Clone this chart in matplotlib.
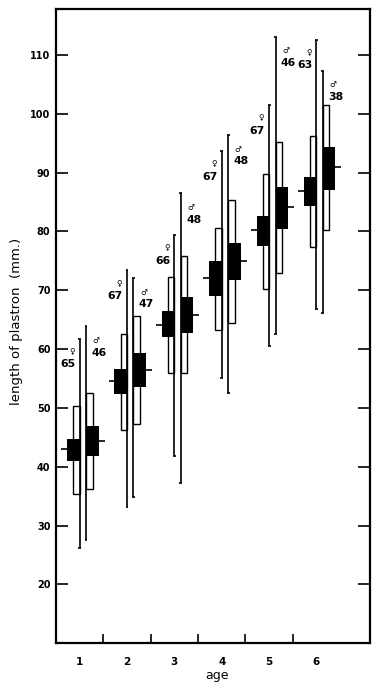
import numpy as np
import matplotlib
matplotlib.use('Agg')
import matplotlib.pyplot as plt

# data (length of plastron in mm, per age class)
ages = np.array([1, 2, 3, 4, 5, 6])
age_labels = ['1', '2', '3', '4', '5', '6']
n_female = [65, 67, 66, 67, 67, 63]
n_male = [46, 47, 48, 48, 46, 38]

# females
female_mean = np.array([43.0, 54.5, 64.1, 72.0, 80.2, 86.9])
female_min = np.array([26.2, 33.2, 41.9, 55.1, 60.5, 66.8])
female_max = np.array([61.8, 73.4, 79.4, 93.7, 101.5, 112.6])
female_sd_lo = np.array([35.4, 46.2, 55.9, 63.2, 70.2, 77.4])
female_sd_hi = np.array([50.3, 62.5, 72.3, 80.6, 89.7, 96.2])
female_se_lo = np.array([41.0, 52.4, 62.0, 69.1, 77.6, 84.4])
female_se_hi = np.array([44.8, 56.6, 66.4, 74.9, 82.6, 89.3])

# males
male_mean = np.array([44.3, 56.4, 65.8, 75.0, 84.1, 90.9])
male_min = np.array([27.5, 34.9, 37.3, 52.5, 62.6, 66.2])
male_max = np.array([63.9, 72.1, 86.5, 96.4, 113.1, 107.3])
male_sd_lo = np.array([36.2, 47.3, 56.0, 64.5, 73.0, 80.2])
male_sd_hi = np.array([52.6, 65.6, 75.8, 85.3, 95.2, 101.5])
male_se_lo = np.array([41.8, 53.6, 62.8, 71.7, 80.4, 87.0])
male_se_hi = np.array([47.0, 59.3, 68.9, 78.1, 87.5, 94.3])

# geometry (in x data units)
w_black = 0.266   # width of black (2 SE) box
w_open = 0.137    # width of open (SD) box
w_mean = 0.125    # how far the mean tick sticks out
cap = 0.03
gap = 0.135       # distance between female and male range line
lw = 1.2

fig = plt.figure(figsize=(3.79, 6.86), dpi=100)
ax = fig.add_axes([56 / 379, 1 - 643.3 / 686, (370 - 56) / 379, (643.3 - 9) / 686])

# --- females: range line at the right edge, boxes to the left ---
xf = ages.astype(float)
ax.bar(xf - w_open, female_sd_hi - female_sd_lo, bottom=female_sd_lo, width=w_open,
       align='edge', facecolor='white', edgecolor='black', linewidth=1.0, zorder=2)
ax.bar(xf - w_black, female_se_hi - female_se_lo, bottom=female_se_lo, width=w_black,
       align='edge', color='black', linewidth=0, zorder=3)
ax.vlines(xf, female_min, female_max, color='black', lw=lw, zorder=4)
ax.hlines(female_min, xf - cap, xf + cap, color='black', lw=lw, zorder=4)
ax.hlines(female_max, xf - cap, xf + cap, color='black', lw=lw, zorder=4)
ax.hlines(female_mean, xf - w_black - w_mean, xf - w_black, color='black', lw=lw, zorder=4)

# --- males: range line at the left edge, boxes to the right ---
xm = ages + gap
ax.bar(xm, male_sd_hi - male_sd_lo, bottom=male_sd_lo, width=w_open,
       align='edge', facecolor='white', edgecolor='black', linewidth=1.0, zorder=2)
ax.bar(xm, male_se_hi - male_se_lo, bottom=male_se_lo, width=w_black,
       align='edge', color='black', linewidth=0, zorder=3)
ax.vlines(xm, male_min, male_max, color='black', lw=lw, zorder=4)
ax.hlines(male_min, xm - cap, xm + cap, color='black', lw=lw, zorder=4)
ax.hlines(male_max, xm - cap, xm + cap, color='black', lw=lw, zorder=4)
ax.hlines(male_mean, xm + w_black, xm + w_black + w_mean, color='black', lw=lw, zorder=4)

# sample sizes with sex symbols near the top of each range line
for i in range(len(ages)):
    ax.text(xf[i] - 0.25, female_max[i] - 4.4, str(n_female[i]), ha='center', va='center',
            fontsize=7.8, fontweight='bold')
    ax.text(xf[i] - 0.16, female_max[i] - 2.2, '\u2640', ha='center', va='center', fontsize=5.5)
    ax.text(xm[i] + 0.27, male_max[i] - 4.5, str(n_male[i]), ha='center', va='center',
            fontsize=7.8, fontweight='bold')
    ax.text(xm[i] + 0.21, male_max[i] - 2.4, '\u2642', ha='center', va='center', fontsize=5.5)

# axes
ax.set_xlim(0.5, 7.13)
ax.set_ylim(10, 117.8)
ax.set_yticks(range(20, 111, 10))
ax.set_yticklabels([str(v) for v in range(20, 111, 10)])
ax.tick_params(axis='y', direction='in', length=8.5, width=1.2, right=True,
               labelsize=7, pad=4)
ax.set_xticks(ages)
ax.set_xticklabels(age_labels)
ax.set_xticks([1.5, 2.5, 3.5, 4.5, 5.5], minor=True)
ax.tick_params(axis='x', which='major', length=0, labelsize=7.5, pad=10)
ax.tick_params(axis='x', which='minor', direction='in', length=6.5, width=1.2)
for lbl in ax.get_yticklabels() + ax.get_xticklabels():
    lbl.set_fontweight('bold')
for s in ax.spines.values():
    s.set_linewidth(1.6)

fig.text(217 / 379, 1 - 675 / 686, 'age', ha='center', va='center', fontsize=9)
fig.text(17 / 379, 1 - 321 / 686, 'length of plastron  (mm.)', ha='center', va='center',
         rotation=90, fontsize=9.5)

plt.savefig('out.png', dpi=100)
